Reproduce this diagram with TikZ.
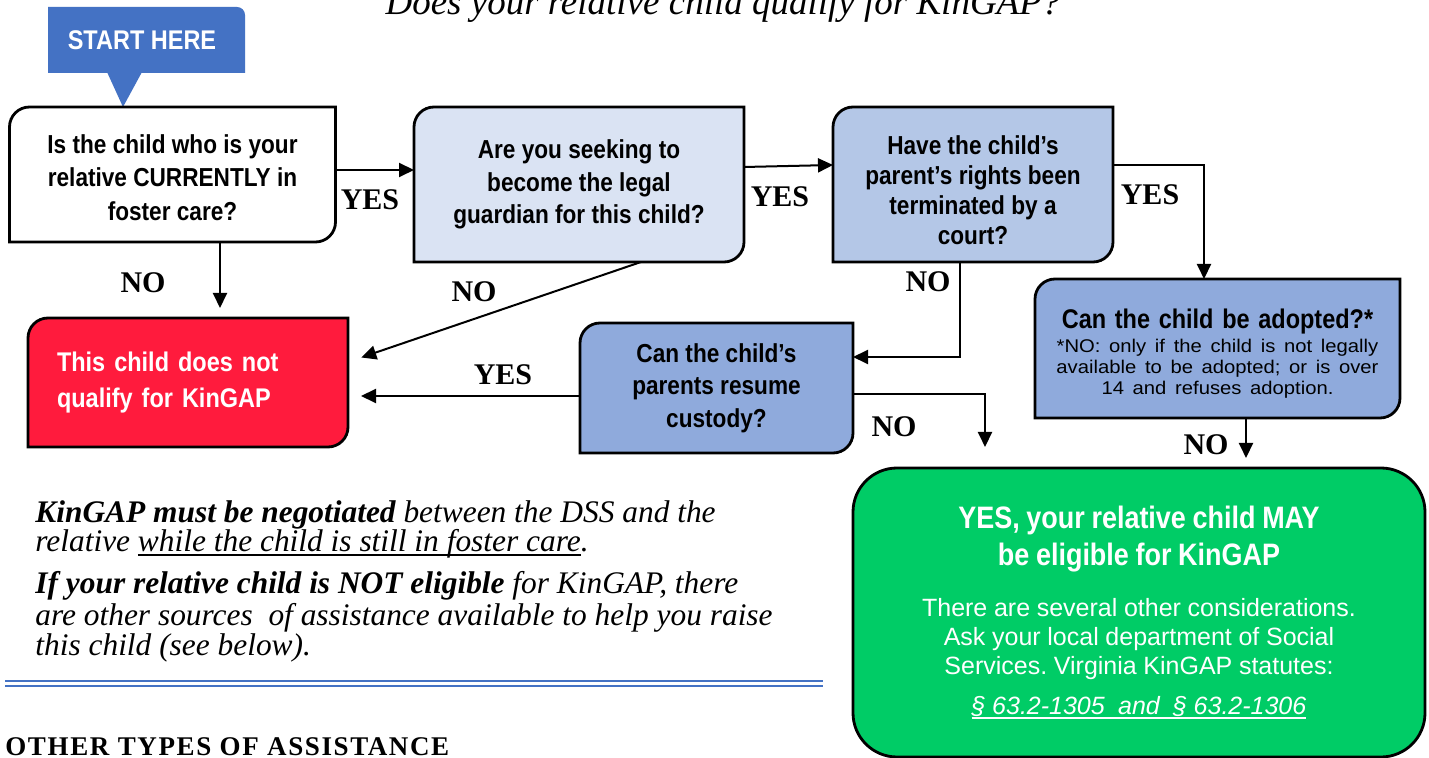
\documentclass[tikz,border=0pt]{standalone}
\usepackage{fontspec}
\setmainfont{Liberation Serif}
\newfontfamily\condfont[FakeStretch=0.87]{Liberation Sans}
\newfontfamily\plainfont{Liberation Sans}
\newfontfamily\widefont[FakeStretch=1.1]{Liberation Sans}
\newfontfamily\capsfont[LetterSpace=6]{Liberation Serif}
\usetikzlibrary{arrows.meta,backgrounds}
\frenchspacing
\newcommand\myul[1]{\leavevmode\setbox0\hbox{#1}\rlap{\rule[-1.8pt]{\wd0}{0.65pt}}\box0}
\definecolor{startblue}{HTML}{4472C4}
\definecolor{pale}{HTML}{DAE3F3}
\definecolor{mid}{HTML}{B4C7E7}
\definecolor{deep}{HTML}{8FAADC}
\definecolor{nored}{HTML}{FF1B3D}
\definecolor{yesgreen}{HTML}{00CC66}
\tikzset{
  qbox/.style={inner sep=0pt, outer sep=0pt, align=center},
  boxfont/.style={font=\condfont\bfseries\fontsize{13}{16.25}\selectfont},
  arr/.style={line width=1pt, -{Triangle[length=7.5pt,width=7pt]}},
  lab/.style={font=\bfseries\fontsize{15}{15}\selectfont, inner sep=0pt},
  frame/.style={draw=black, line width=1.4pt},
  para/.style={anchor=base west, inner sep=0pt, font=\itshape\fontsize{15.7}{17}\selectfont},
}
\newcommand\tbframe[3]{\path[frame, fill=#2] (#1.north) [sharp corners] -- (#1.north east) [rounded corners=#3] -- (#1.south east) [sharp corners] -- (#1.south west) [rounded corners=#3] -- (#1.north west) [sharp corners] -- cycle;}
\begin{document}
\begin{tikzpicture}[x=0.5pt,y=-0.5pt]
\useasboundingbox (0,0) rectangle (1429,758);
\clip (0,0) rectangle (1429,758);

% title (cut off at the top)
\node[anchor=base, inner sep=0pt, font=\itshape\fontsize{18.5}{20}\selectfont] (title) at (723,15) {Does your relative child qualify for KinGAP?};

% start callout
\node[qbox, minimum width=98.5pt, minimum height=33pt, text=white, font=\condfont\bfseries\fontsize{13.5}{14}\selectfont] (start) at (146.5,40) {START HERE\hspace*{4.5pt}};

% question boxes
\node[qbox, boxfont, font=\condfont\bfseries\fontsize{13}{16.75}\selectfont, minimum width=163pt, minimum height=67.5pt] (b1) at (172.5,174.5) {\rule{0pt}{12.5pt}Is the child who is your\\relative CURRENTLY in\\foster care?};
\node[qbox, boxfont, minimum width=165pt, minimum height=77.5pt] (b2) at (579,184.5) {Are you seeking to\\become the legal\\guardian for this child?};
\node[qbox, boxfont, font=\condfont\bfseries\fontsize{13}{15}\selectfont, minimum width=140pt, minimum height=77.5pt] (b3) at (973,184.5) {\rule{0pt}{15pt}Have the child’s\\parent’s rights been\\terminated by a\\court?};
\node[qbox, boxfont, minimum width=182.5pt, minimum height=69.5pt, text width=178pt] (b4) at (1217.5,348.5) {{\fontsize{13.5}{16}\selectfont\rule{0pt}{15pt}Can the child be adopted?*\par}\vspace{1.5pt}{\widefont\mdseries\fontsize{9.2}{10.5}\selectfont *NO: only if the child is not legally\\available to be adopted; or is over\\14 and refuses adoption.\par}};
\node[qbox, boxfont, minimum width=136.5pt, minimum height=65pt] (b5) at (716.5,388) {Can the child’s\\parents resume\\custody?};

% outcome boxes
\node[qbox, align=left, text width=131pt, inner xsep=14.5pt, minimum width=160pt, minimum height=64.5pt, text=white, font=\condfont\bfseries\fontsize{13.5}{18}\selectfont] (red) at (188,382.5) {This child does not\\qualify for KinGAP};
\node[qbox, text width=280pt, minimum width=286pt, minimum height=144.5pt, text=white] (green) at (1139,612.5) {{\condfont\bfseries\fontsize{15.5}{18.5}\selectfont YES, your relative child MAY\\be eligible for KinGAP\par}\vspace{11pt}{\plainfont\fontsize{12.5}{14.5}\selectfont There are several other considerations.\\Ask your local department of Social\\Services. Virginia KinGAP statutes:\par}\vspace{5.5pt}{\plainfont\itshape\fontsize{12.5}{14.5}\selectfont\myul{§ 63.2-1305\ \ and\ \ § 63.2-1306}\par}};

% frames behind the nodes
\begin{pgfonlayer}{background}
\fill[white] (0,0) rectangle (1429,758);
\fill[startblue] (start.south west) -- (start.north west) [rounded corners=4pt] -- (start.north east) [sharp corners] -- (start.south east) -- cycle;
\fill[startblue] (107,72) -- (142,72) -- (123,107) -- cycle;
\tbframe{b1}{white}{10pt}
\tbframe{b2}{pale}{10pt}
\tbframe{b3}{mid}{10pt}
\tbframe{b4}{deep}{10pt}
\tbframe{b5}{deep}{10pt}
\tbframe{red}{nored}{10pt}
\path[frame, fill=yesgreen, rounded corners=22pt] (green.south west) rectangle (green.north east);
\end{pgfonlayer}

% connectors
\coordinate (nogreen) at (985,447);
\draw[arr] ([yshift=2.25pt]b1.east) -- ([yshift=2.25pt]b1.east -| b2.west);
\draw[arr] ([yshift=8.75pt]b2.east) -- ([yshift=9.75pt]b3.west);
\draw[arr, shorten >=5pt] ([xshift=23.75pt]b1.south) -- ([xshift=23.75pt]b1.south |- red.north);
\draw[arr, shorten >=7pt] ([xshift=31pt]b2.south) -- ([yshift=10.25pt]red.east);
\draw[arr] ([xshift=-6.5pt]b3.south) |- ([yshift=15.5pt]b5.east);
\draw[arr, shorten >=6.5pt] ([yshift=-4pt]b5.west) -- ([yshift=-4pt]b5.west -| red.east);
\draw[arr] ([yshift=-3pt]b5.east) -| (nogreen);
\draw[arr] ([yshift=9.75pt]b3.east) -| ([xshift=-6.75pt]b4.north);
\draw[arr, shorten >=5pt] ([xshift=14.25pt]b4.south) -- ([xshift=14.25pt]b4.south |- green.north);

% connector labels
\node[lab] (l1) at (370,200) {YES};
\node[lab] (l2) at (780,197) {YES};
\node[lab] (l3) at (1150,195) {YES};
\node[lab] (l4) at (143,283) {NO};
\node[lab] (l5) at (474,292) {NO};
\node[lab] (l6) at (928,282) {NO};
\node[lab] (l7) at (503,375) {YES};
\node[lab] (l8) at (894,427) {NO};
\node[lab] (l9) at (1206,445) {NO};

% notes
\node[para] (p1) at (35,523) {\textbf{KinGAP must be negotiated} between the DSS and the};
\node[para] (p2) at (35,552) {relative \myul{while the child is still in foster care}.};
\node[para] (p3) at (35,594) {\textbf{If your relative child is NOT eligible} for KinGAP, there};
\node[para] (p4) at (35,625) {are other sources\ \ of assistance available to help you raise};
\node[para] (p5) at (35,655) {this child (see below).};

\draw[startblue, line width=1.2pt] (5,681) -- (823,681);
\draw[startblue, line width=1pt] (5,685.5) -- (823,685.5);

\node[anchor=base west, inner sep=0pt, font=\capsfont\bfseries\fontsize{13.5}{14}\selectfont] (other) at (5,755) {OTHER TYPES OF ASSISTANCE};
\end{tikzpicture}
\end{document}
